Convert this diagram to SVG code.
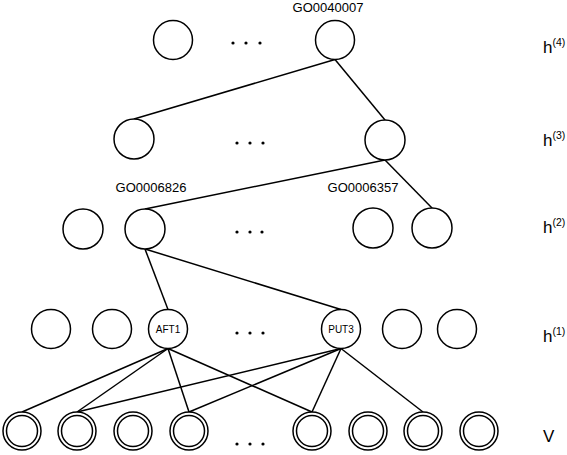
<svg xmlns="http://www.w3.org/2000/svg" width="567" height="455" viewBox="0 0 567 455">
<style>
.n{fill:#fff;stroke:#000;stroke-width:1.5}
.c line{stroke:#000;stroke-width:1.5}
.d{fill:#000}
.lbl{font-family:"Liberation Sans",Arial,sans-serif;font-size:13px;fill:#000;text-anchor:middle}
.in{font-family:"Liberation Sans",Arial,sans-serif;font-size:10px;fill:#000;text-anchor:middle}
.lay{font-family:"Liberation Sans",Arial,sans-serif;font-size:17px;fill:#000}
.sup{font-size:10.5px}
</style>
<rect width="567" height="455" fill="#fff"/>
<g id="connectors" class="c">
<line x1="335" y1="59.5" x2="134" y2="119"/>
<line x1="335" y1="59.5" x2="385" y2="120"/>
<line x1="385" y1="160" x2="145" y2="209"/>
<line x1="385" y1="160" x2="432" y2="208"/>
<line x1="145" y1="249" x2="168" y2="309.5"/>
<line x1="145" y1="249" x2="341" y2="309.5"/>
<line x1="168" y1="348.5" x2="22" y2="412"/>
<line x1="168" y1="348.5" x2="77" y2="412"/>
<line x1="168" y1="348.5" x2="189" y2="412"/>
<line x1="168" y1="348.5" x2="312" y2="412"/>
<line x1="341" y1="348.5" x2="77" y2="412"/>
<line x1="341" y1="348.5" x2="189" y2="412"/>
<line x1="341" y1="348.5" x2="312" y2="412"/>
<line x1="341" y1="348.5" x2="423" y2="412"/>
</g>
<g id="h4-1"><circle class="n" cx="173" cy="40" r="19.5"/></g>
<g id="h4-GO0040007"><circle class="n" cx="335" cy="40" r="19.5"/><text class="lbl" x="328" y="12">GO0040007</text></g>
<g id="h3-1"><circle class="n" cx="134" cy="139" r="20"/></g>
<g id="h3-2"><circle class="n" cx="385" cy="140" r="20"/></g>
<g id="h2-1"><circle class="n" cx="83" cy="229" r="20"/></g>
<g id="h2-GO0006826"><circle class="n" cx="145" cy="229" r="20"/><text class="lbl" x="151" y="192">GO0006826</text></g>
<g id="h2-GO0006357"><circle class="n" cx="373" cy="228" r="20"/><text class="lbl" x="363" y="192">GO0006357</text></g>
<g id="h2-4"><circle class="n" cx="432" cy="228" r="20"/></g>
<g id="h1-1"><circle class="n" cx="51" cy="329" r="19.5"/></g>
<g id="h1-2"><circle class="n" cx="112" cy="329" r="19.5"/></g>
<g id="h1-AFT1"><circle class="n" cx="168" cy="329" r="19.5"/><text class="in" x="168" y="333">AFT1</text></g>
<g id="h1-PUT3"><circle class="n" cx="341" cy="329" r="19.5"/><text class="in" x="341" y="333">PUT3</text></g>
<g id="h1-5"><circle class="n" cx="402" cy="329" r="19.5"/></g>
<g id="h1-6"><circle class="n" cx="457" cy="329" r="19.5"/></g>
<g id="v1"><circle class="n" cx="22" cy="431" r="19"/><circle class="n" cx="22" cy="431" r="15.5"/></g>
<g id="v2"><circle class="n" cx="77" cy="431" r="19"/><circle class="n" cx="77" cy="431" r="15.5"/></g>
<g id="v3"><circle class="n" cx="133" cy="431" r="19"/><circle class="n" cx="133" cy="431" r="15.5"/></g>
<g id="v4"><circle class="n" cx="189" cy="431" r="19"/><circle class="n" cx="189" cy="431" r="15.5"/></g>
<g id="v5"><circle class="n" cx="312" cy="431" r="19"/><circle class="n" cx="312" cy="431" r="15.5"/></g>
<g id="v6"><circle class="n" cx="368" cy="431" r="19"/><circle class="n" cx="368" cy="431" r="15.5"/></g>
<g id="v7"><circle class="n" cx="423" cy="431" r="19"/><circle class="n" cx="423" cy="431" r="15.5"/></g>
<g id="v8"><circle class="n" cx="479" cy="431" r="19"/><circle class="n" cx="479" cy="431" r="15.5"/></g>
<g id="ellipses" class="d">
<circle cx="233" cy="43" r="1.6"/><circle cx="246" cy="43" r="1.6"/><circle cx="260" cy="43" r="1.6"/>
<circle cx="237" cy="143" r="1.6"/><circle cx="250" cy="143" r="1.6"/><circle cx="263" cy="143" r="1.6"/>
<circle cx="237" cy="232" r="1.6"/><circle cx="250" cy="232" r="1.6"/><circle cx="262" cy="232" r="1.6"/>
<circle cx="237" cy="333" r="1.6"/><circle cx="250" cy="333" r="1.6"/><circle cx="263" cy="333" r="1.6"/>
<circle cx="237" cy="444" r="1.6"/><circle cx="250" cy="444" r="1.6"/><circle cx="263" cy="444" r="1.6"/>
</g>
<g id="layer-labels">
<text class="lay" x="543" y="53">h<tspan class="sup" dy="-7">(4)</tspan></text>
<text class="lay" x="543" y="146">h<tspan class="sup" dy="-7">(3)</tspan></text>
<text class="lay" x="543" y="233">h<tspan class="sup" dy="-7">(2)</tspan></text>
<text class="lay" x="543" y="342">h<tspan class="sup" dy="-7">(1)</tspan></text>
<text class="lay" x="543" y="442">V</text>
</g>
</svg>
